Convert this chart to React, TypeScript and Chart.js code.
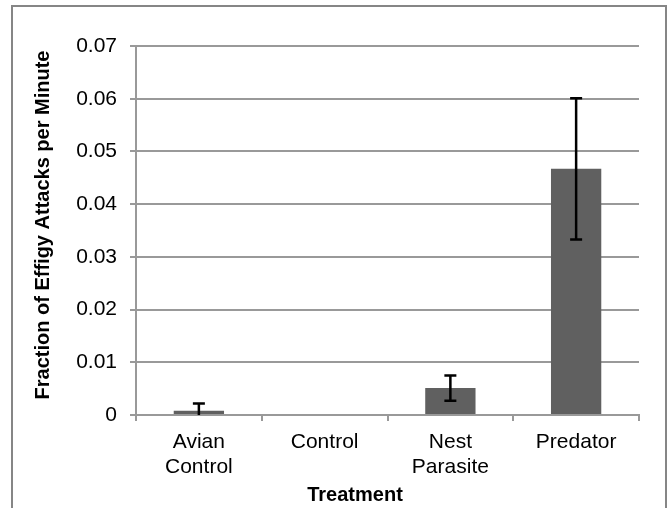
import React, { useEffect, useRef } from "react";
import { Chart, registerables } from "chart.js";

Chart.register(...registerables);

const categories: string[][] = [["Avian", "Control"], ["Control"], ["Nest", "Parasite"], ["Predator"]];
const values: number[] = [0.0008, 0, 0.0051, 0.0467];
const errors: number[] = [0.0014, 0, 0.0024, 0.0134];
const yTicks: number[] = [0, 0.01, 0.02, 0.03, 0.04, 0.05, 0.06, 0.07];
const yTitle = "Fraction of Effigy Attacks per Minute";
const xTitle = "Treatment";

const FONT = "'Liberation Sans', Arial, sans-serif";

const framePlugin = {
  id: "frame",
  beforeDraw(chart: any) {
    const ctx = chart.ctx;
    ctx.save();
    ctx.fillStyle = "#ffffff";
    ctx.fillRect(0, 0, chart.width, chart.height);
    ctx.strokeStyle = "#868686";
    ctx.lineWidth = 2;
    ctx.strokeRect(12, 6, 654, 520);
    ctx.restore();
  },
  afterDraw(chart: any) {
    const ctx = chart.ctx;
    ctx.save();
    ctx.fillStyle = "#000000";
    ctx.font = `bold 20px ${FONT}`;
    ctx.textAlign = "center";
    ctx.textBaseline = "middle";
    ctx.fillText(xTitle, 355, 495);
    ctx.translate(43, 225);
    ctx.rotate(-Math.PI / 2);
    ctx.fillText(yTitle, 0, 0);
    ctx.restore();
  },
};

const errorBarPlugin = {
  id: "errorBars",
  afterDatasetsDraw(chart: any) {
    const ctx = chart.ctx;
    const meta = chart.getDatasetMeta(0);
    const y = chart.scales.y;
    const area = chart.chartArea;
    ctx.save();
    ctx.beginPath();
    ctx.rect(area.left, area.top - 2, area.right - area.left, area.bottom - area.top + 2);
    ctx.clip();
    ctx.strokeStyle = "#000000";
    ctx.lineWidth = 2.5;
    meta.data.forEach((bar: any, i: number) => {
      const e = errors[i];
      if (!e) return;
      const v = values[i];
      const x = bar.x;
      const yTop = y.getPixelForValue(v + e);
      const yBot = y.getPixelForValue(v - e);
      ctx.beginPath();
      ctx.moveTo(x, yTop);
      ctx.lineTo(x, yBot);
      ctx.moveTo(x - 6, yTop);
      ctx.lineTo(x + 6, yTop);
      ctx.moveTo(x - 6, yBot);
      ctx.lineTo(x + 6, yBot);
      ctx.stroke();
    });
    ctx.restore();
  },
};

export default function App() {
  const ref = useRef<HTMLCanvasElement | null>(null);

  useEffect(() => {
    document.body.style.margin = "0";
    if (!ref.current) return;
    const chart = new Chart(ref.current, {
      type: "bar",
      data: {
        labels: categories,
        datasets: [
          {
            data: values,
            backgroundColor: "#606060",
            borderWidth: 0,
            barPercentage: 0.4,
            categoryPercentage: 1,
          },
        ],
      },
      options: {
        responsive: false,
        animation: false,
        devicePixelRatio: 1,
        layout: { padding: { left: 0, right: 29, top: 46, bottom: 0 } },
        plugins: {
          legend: { display: false },
          tooltip: { enabled: false },
        },
        scales: {
          x: {
            grid: {
              drawOnChartArea: false,
              drawTicks: true,
              tickLength: 6,
              color: "#999999",
              lineWidth: 2,
              offset: true,
            },
            border: { color: "#999999", width: 2 },
            ticks: {
              font: { family: FONT, size: 21, lineHeight: 1.19 },
              color: "#000000",
              padding: 9,
              maxRotation: 0,
              autoSkip: false,
            },
            afterFit(scale: any) {
              scale.height = 93;
            },
          },
          y: {
            min: 0,
            max: 0.07,
            afterBuildTicks(scale: any) {
              scale.ticks = yTicks.map((v) => ({ value: v }));
            },
            grid: {
              color: "#999999",
              lineWidth: 2,
              tickLength: 6,
              drawTicks: true,
            },
            border: { color: "#999999", width: 2 },
            ticks: {
              font: { family: FONT, size: 21 },
              color: "#000000",
              padding: 13,
              callback: (v: any) => (Number(v) === 0 ? "0" : Number(v).toFixed(2)),
            },
            afterFit(scale: any) {
              scale.width = 136;
            },
          },
        },
      },
      plugins: [framePlugin, errorBarPlugin],
    } as any);
    return () => chart.destroy();
  }, []);

  return (
    <div style={{ position: "absolute", left: 0, top: 0, width: 668, height: 508 }}>
      <canvas ref={ref} width={668} height={508} />
    </div>
  );
}
